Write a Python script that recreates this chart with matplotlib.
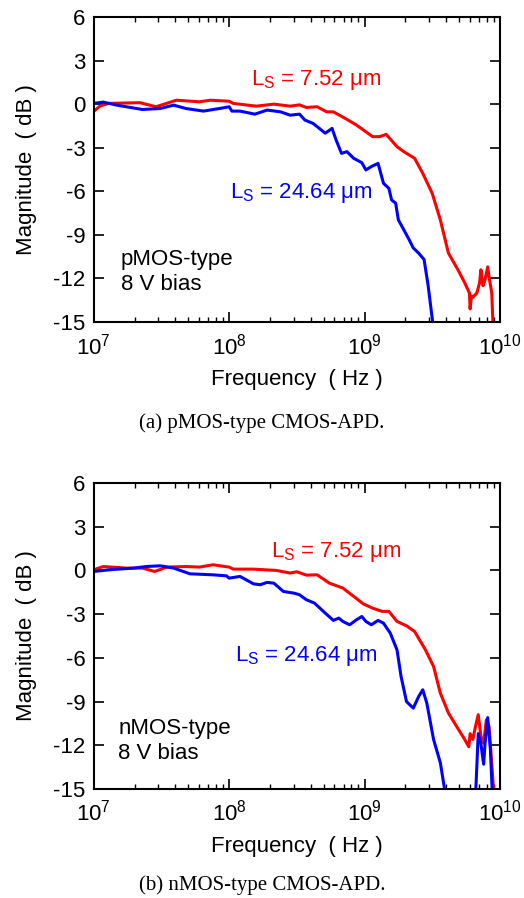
import matplotlib
matplotlib.use("Agg")
import matplotlib.pyplot as plt
import numpy as np

plt.rcParams['font.family'] = ['Liberation Sans', 'DejaVu Sans']
plt.rcParams['mathtext.fontset'] = 'custom'
plt.rcParams['mathtext.rm'] = 'Liberation Sans'
plt.rcParams['mathtext.it'] = 'Liberation Sans:italic'
plt.rcParams['mathtext.bf'] = 'Liberation Sans:bold'

# log10(frequency) and magnitude (dB)
# (a) pMOS-type
p_red_logf = [7.0, 7.044, 7.11, 7.34, 7.46, 7.61, 7.78, 7.86, 8.0, 8.03, 8.2, 8.33, 8.45, 8.52,
              8.57, 8.65, 8.72, 8.77, 8.87, 8.94, 9.01, 9.06, 9.11, 9.16, 9.24, 9.29, 9.37,
              9.43, 9.5, 9.56, 9.62, 9.69, 9.74, 9.775, 9.78, 9.79, 9.8, 9.83, 9.85, 9.86,
              9.875, 9.89, 9.91, 9.92, 9.94, 9.95]
p_red_db = [-0.5, -0.14, 0.05, 0.1, -0.18, 0.27, 0.16, 0.27, 0.2, 0.05, -0.14, 0.0, -0.14, -0.05,
            -0.23, -0.18, -0.53, -0.53, -1.05, -1.44, -1.9, -2.24, -2.24, -2.08, -2.93, -3.27, -3.73,
            -4.76, -6.14, -7.97, -10.26, -11.4, -12.3, -13.0, -14.1, -13.2, -13.3, -13.0, -12.3, -11.4,
            -12.5, -12.1, -11.2, -11.9, -13.0, -15.5]
p_blue_logf = [7.0, 7.07, 7.17, 7.36, 7.49, 7.59, 7.68, 7.81, 7.93, 8.0, 8.02, 8.08, 8.19, 8.28,
               8.38, 8.45, 8.52, 8.56, 8.62, 8.71, 8.76, 8.79, 8.83, 8.87, 8.92, 8.98, 9.01,
               9.05, 9.1, 9.14, 9.18, 9.2, 9.23, 9.25, 9.29, 9.33, 9.36, 9.4, 9.44, 9.47, 9.51]
p_blue_db = [0.05, 0.14, -0.07, -0.37, -0.3, -0.07, -0.3, -0.48, -0.3, -0.18, -0.48, -0.48, -0.69, -0.41,
             -0.53, -0.76, -0.69, -1.1, -1.33, -2.0, -1.67, -2.47, -3.39, -3.27, -3.73, -4.03, -4.53,
             -4.3, -4.08, -5.45, -5.8, -6.6, -6.82, -7.97, -8.65, -9.34, -9.9, -10.26, -10.7, -12.5, -15.5]

# (b) nMOS-type
n_red_logf = [7.0, 7.07, 7.24, 7.36, 7.45, 7.54, 7.68, 7.78, 7.88, 8.0, 8.03, 8.18, 8.35, 8.45,
              8.5, 8.57, 8.65, 8.74, 8.84, 8.92, 8.99, 9.06, 9.13, 9.18, 9.24, 9.31, 9.37,
              9.45, 9.51, 9.56, 9.62, 9.68, 9.74, 9.77, 9.78, 9.8, 9.82, 9.84, 9.86, 9.88,
              9.9, 9.92, 9.95, 9.96]
n_red_db = [0.05, 0.27, 0.16, 0.16, -0.07, 0.23, 0.27, 0.23, 0.39, 0.23, 0.09, 0.09, 0.0, -0.18,
            -0.09, -0.32, -0.3, -0.87, -1.21, -1.78, -2.29, -2.59, -2.81, -2.81, -3.5, -3.8, -4.19,
            -5.45, -6.59, -8.42, -9.79, -10.7, -11.6, -12.1, -11.2, -11.6, -10.7, -9.9, -11.4, -11.85,
            -10.25, -10.7, -14.6, -15.5]
n_blue_logf = [7.0, 7.12, 7.29, 7.39, 7.49, 7.59, 7.71, 7.88, 7.98, 8.0, 8.08, 8.18, 8.23, 8.28,
               8.33, 8.4, 8.48, 8.52, 8.57, 8.63, 8.71, 8.77, 8.81, 8.84, 8.89, 8.94, 8.98,
               9.01, 9.05, 9.1, 9.14, 9.19, 9.24, 9.27, 9.31, 9.36, 9.4, 9.43, 9.46, 9.51,
               9.56, 9.6, 9.82, 9.84, 9.86, 9.88, 9.89, 9.91, 9.93, 9.945]
n_blue_db = [-0.07, 0.05, 0.16, 0.27, 0.32, 0.16, -0.23, -0.3, -0.37, -0.53, -0.41, -0.92, -0.98, -0.82,
             -0.87, -1.44, -1.56, -1.67, -2.01, -2.24, -2.93, -3.43, -3.27, -3.5, -3.73, -3.39, -3.16,
             -3.5, -3.73, -3.43, -3.62, -4.3, -5.45, -7.28, -9.0, -9.45, -8.65, -8.19, -9.1, -11.6,
             -13.2, -15.5, -15.5, -11.2, -11.9, -13.3, -11.9, -10.1, -12.3, -15.5]

yticks = [-15, -12, -9, -6, -3, 0, 3, 6]
red = '#ff0000'
blue = '#0000ff'
fs = 16

fig = plt.figure(figsize=(5.24, 8.98), dpi=100)
ax1 = fig.add_axes([0.179, 0.6414, 0.775, 0.3397])
ax2 = fig.add_axes([0.179, 0.1214, 0.775, 0.3407])

panels = [
    (ax1, p_red_logf, p_red_db, p_blue_logf, p_blue_db,
     (8.165, 1.65), (8.005, -6.1), "pMOS-type\n8 V bias", (7.2, -11.55),
     "(a) pMOS-type CMOS-APD.", 0.529),
    (ax2, n_red_logf, n_red_db, n_blue_logf, n_blue_db,
     (8.31, 1.3), (8.04, -5.9), "nMOS-type\n8 V bias", (7.18, -11.7),
     "(b) nMOS-type CMOS-APD.", 0.014),
]

for ax, rx, ry, bx, by, rpos, bpos, note, npos, caption, cy in panels:
    ax.plot(10 ** np.array(rx), ry, color=red, lw=2.2, solid_joinstyle='round')
    # the blue curve drops out below -15 dB and comes back near 7 GHz
    ax.plot(10 ** np.array(bx), by, color=blue, lw=2.2, solid_joinstyle='round')
    ax.set_xscale('log')
    ax.set_xlim(1e7, 1e10)
    ax.set_ylim(-15, 6)
    ax.set_yticks(yticks)
    ax.set_yticklabels([str(t) for t in yticks])
    ax.tick_params(which='both', direction='in', top=True, right=True, labelsize=fs)
    ax.tick_params(which='major', length=7, width=1.2, pad=6)
    ax.tick_params(which='minor', length=3.5, width=1.0)
    ax.tick_params(axis='x', which='major', pad=8)
    for s in ax.spines.values():
        s.set_linewidth(1.5)
    ax.set_xlabel("Frequency  ( Hz )", fontsize=fs, labelpad=7)
    ax.set_ylabel("Magnitude  ( dB )", fontsize=fs, labelpad=12)
    ax.text(10 ** rpos[0], rpos[1], "L$_\\mathrm{S}$ = 7.52 μm", color=red, fontsize=fs, va='center')
    ax.text(10 ** bpos[0], bpos[1], "L$_\\mathrm{S}$ = 24.64 μm", color=blue, fontsize=fs, va='center')
    ax.text(10 ** npos[0], npos[1], note, fontsize=fs, va='center', linespacing=1.25)
    fig.text(0.5, cy, caption, ha='center', va='center', fontsize=15, family='Liberation Serif')

fig.savefig("out.png", dpi=100)
